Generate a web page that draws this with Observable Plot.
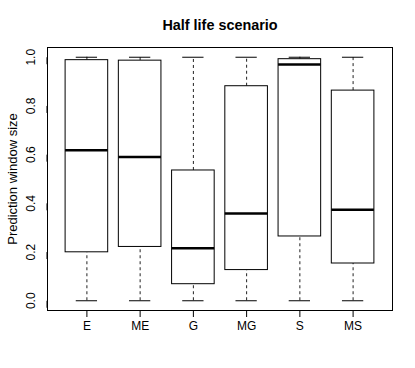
<!DOCTYPE html>
<html>
<head>
<meta charset="utf-8">
<script src="https://cdn.jsdelivr.net/npm/d3@7"></script>
<script src="https://cdn.jsdelivr.net/npm/@observablehq/plot@0.6"></script>
<style>
  html, body { margin: 0; padding: 0; background: #fff; }
  #chart svg { display: block; }
  #chart g[aria-label="x-axis tick label"] text,
  #chart g[aria-label="y-axis tick label"] text { font-size: 12px; }
  #chart g[aria-label="y-axis label"] text { font-size: 13px; }
</style>
</head>
<body>
<div id="chart"></div>
<script>
const categories = ["E", "ME", "G", "MG", "S", "MS"];
const whiskerLow = [0, 0, 0, 0, 0, 0];
const q1 = [0.199, 0.221, 0.068, 0.126, 0.264, 0.153];
const medians = [0.618, 0.590, 0.216, 0.358, 0.970, 0.374];
const q3 = [0.988, 0.986, 0.535, 0.881, 0.992, 0.863];
const whiskerHigh = [1, 1, 1, 1, 1, 1];
const yTicks = [0, 0.2, 0.4, 0.6, 0.8, 1.0];
const titleText = "Half life scenario";
const yLabel = "Prediction window size";

const data = categories.map((c, i) => ({
  cat: c, pos: i + 1,
  lo: whiskerLow[i], q1: q1[i], med: medians[i], q3: q3[i], hi: whiskerHigh[i]
}));

const font = "'Liberation Sans', Arial, Helvetica, sans-serif";

const chart = Plot.plot({
  width: 415,
  height: 368,
  marginTop: 47,
  marginBottom: 58,
  marginLeft: 47,
  marginRight: 23,
  style: { fontFamily: font, fontSize: "12px", color: "#000", background: "#fff" },
  x: { type: "linear", domain: [0.26, 6.74] },
  y: { domain: [-0.04, 1.04] },
  marks: [
    // whiskers
    Plot.ruleX(data, { x: "pos", y1: "q3", y2: "hi", stroke: "#222", strokeDasharray: "3,3" }),
    Plot.ruleX(data, { x: "pos", y1: "lo", y2: "q1", stroke: "#222", strokeDasharray: "3,3" }),
    // caps
    Plot.ruleY(data, { y: "hi", x1: d => d.pos - 0.2, x2: d => d.pos + 0.2, stroke: "#000" }),
    Plot.ruleY(data, { y: "lo", x1: d => d.pos - 0.2, x2: d => d.pos + 0.2, stroke: "#000" }),
    // boxes
    Plot.rect(data, { x1: d => d.pos - 0.4, x2: d => d.pos + 0.4, y1: "q1", y2: "q3", fill: "#fff", stroke: "#000" }),
    // medians
    Plot.ruleY(data, { y: "med", x1: d => d.pos - 0.4, x2: d => d.pos + 0.4, stroke: "#000", strokeWidth: 2.5 }),
    Plot.frame({ stroke: "#000" }),
    Plot.axisY({
      ticks: yTicks, tickFormat: d3.format(".1f"), tickSize: 7, tickPadding: 9,
      rotate: -90, textAnchor: "middle", fontSize: 12,
      label: yLabel, labelAnchor: "center", labelArrow: "none", labelOffset: 40
    }),
    Plot.axisX({
      ticks: categories.map((c, i) => i + 1), tickFormat: d => categories[d - 1],
      tickSize: 7, tickPadding: 4, fontSize: 12, label: null
    }),
    Plot.text([titleText], {
      frameAnchor: "top", lineAnchor: "middle", dy: -22, text: d => d,
      fontWeight: "bold", fontSize: 14.4, fill: "#000"
    })
  ]
});

document.getElementById("chart").appendChild(chart);
</script>
</body>
</html>
